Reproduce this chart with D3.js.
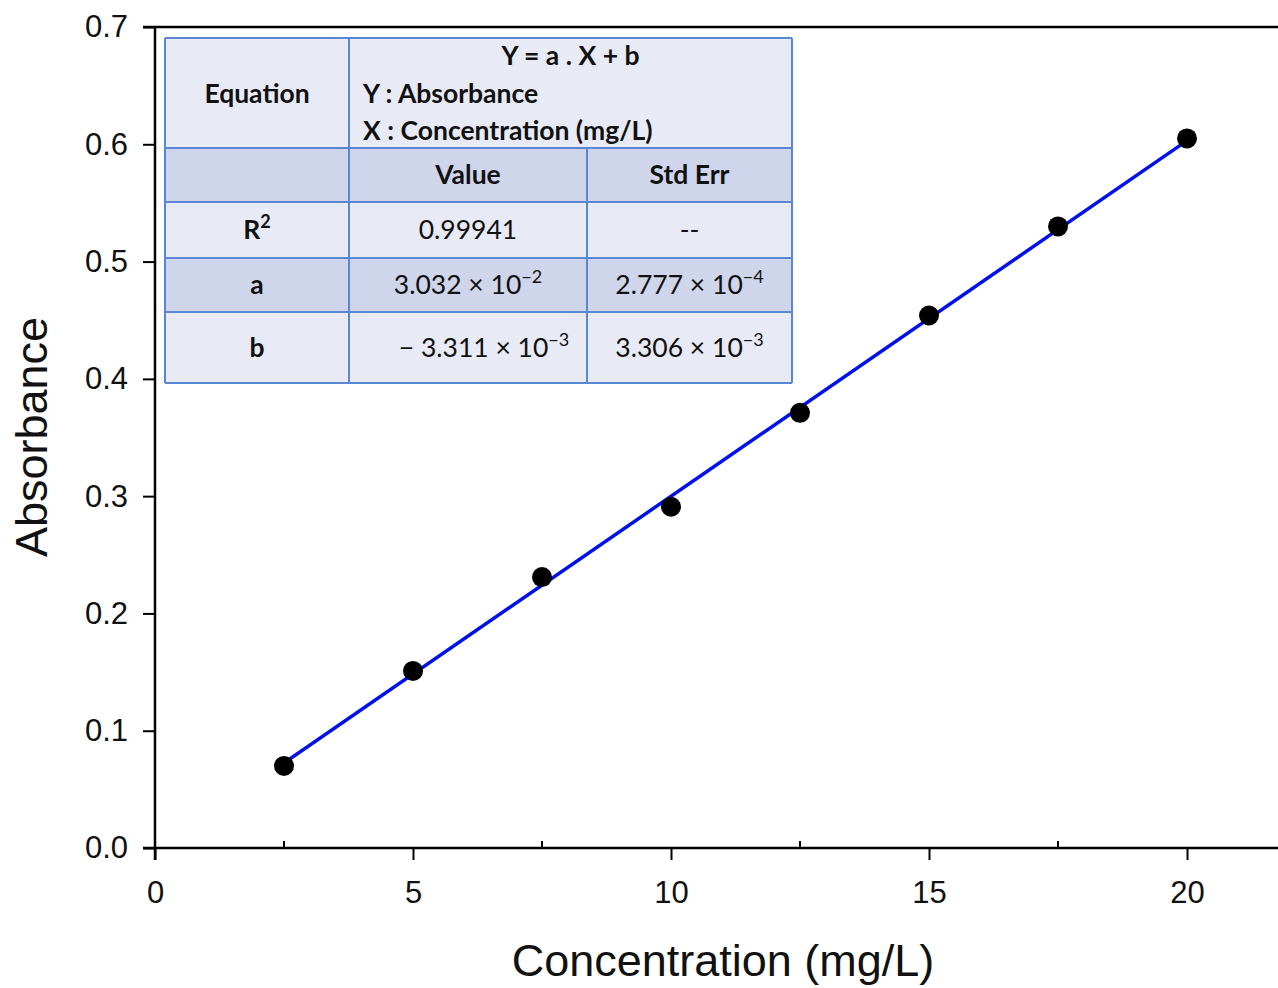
<!DOCTYPE html>
<html>
<head>
<meta charset="utf-8">
<script src="https://cdn.jsdelivr.net/npm/d3@7"></script>
<style>
  body { margin: 0; background: #fff; }
  svg { display: block; }
</style>
</head>
<body>
<svg id="chart" width="1278" height="988"></svg>
<script>
// measured points
const concentration = [2.5, 5, 7.5, 10, 12.5, 15, 17.5, 20];
const absorbance = [0.07, 0.151, 0.231, 0.291, 0.371, 0.454, 0.530, 0.605];
// fit: Y = a.X + b
const slope = 0.03032;
const intercept = -0.003311;
const xTicks = [0, 5, 10, 15, 20];
const xMinorTicks = [2.5, 7.5, 12.5, 17.5];
const yTicks = [0, 0.1, 0.2, 0.3, 0.4, 0.5, 0.6, 0.7];

// table content
const tableRows = [
  {label: 'R²', value: ['0.99941'], err: ['--']},
  {label: 'a', value: ['3.032 × 10', '−2'], err: ['2.777 × 10', '−4']},
  {label: 'b', value: ['−  3.311 × 10', '−3'], err: ['3.306 × 10', '−3']}
];

(function () {
const svg = d3.select('#chart');
const plotLeft = 155, plotBottom = 848, plotTop = 27;

const x = d3.scaleLinear().domain([0, 20]).range([plotLeft, 1187]);
const y = d3.scaleLinear().domain([0, 0.7]).range([plotBottom, plotTop]);

const axisFont = '"Liberation Sans", Arial, sans-serif';

// top frame line
svg.append('line')
  .attr('x1', plotLeft - 12).attr('x2', 1278)
  .attr('y1', plotTop).attr('y2', plotTop)
  .attr('stroke', '#000').attr('stroke-width', 2.5);

// x axis
const gx = svg.append('g').attr('transform', `translate(0,${plotBottom})`)
  .call(d3.axisBottom(x).tickValues(xTicks).tickSize(12).tickPadding(21).tickFormat(d3.format('d')));
gx.select('.domain').remove();
gx.append('line').attr('x1', plotLeft - 12).attr('x2', 1278).attr('stroke', '#000').attr('stroke-width', 2.5);
gx.selectAll('.tick line').attr('stroke-width', 2);
gx.selectAll('.tick text').attr('font-family', axisFont).attr('font-size', 31).attr('fill', '#111');
gx.selectAll('.minor').data(xMinorTicks).join('line')
  .attr('class', 'minor')
  .attr('x1', d => x(d)).attr('x2', d => x(d))
  .attr('y1', 0).attr('y2', -7)
  .attr('stroke', '#000').attr('stroke-width', 2);

// y axis
const gy = svg.append('g').attr('transform', `translate(${plotLeft},0)`)
  .call(d3.axisLeft(y).tickValues(yTicks).tickSize(12).tickPadding(15).tickFormat(d3.format('.1f')));
gy.select('.domain').remove();
gy.append('line').attr('y1', plotTop).attr('y2', plotBottom + 12).attr('stroke', '#000').attr('stroke-width', 2.5);
gy.selectAll('.tick line').attr('stroke-width', 2);
gy.selectAll('.tick text').attr('font-family', axisFont).attr('font-size', 31).attr('fill', '#111');

// axis titles
svg.append('text')
  .attr('x', 723).attr('y', 976)
  .attr('text-anchor', 'middle')
  .attr('font-family', axisFont).attr('font-size', 45).attr('fill', '#111')
  .text('Concentration (mg/L)');
svg.append('text')
  .attr('transform', 'translate(47,437) rotate(-90)')
  .attr('text-anchor', 'middle')
  .attr('font-family', axisFont).attr('font-size', 45).attr('fill', '#111')
  .text('Absorbance');

// fit line
const xr = d3.extent(concentration);
svg.append('line')
  .attr('x1', x(xr[0])).attr('y1', y(slope * xr[0] + intercept))
  .attr('x2', x(xr[1])).attr('y2', y(slope * xr[1] + intercept))
  .attr('stroke', '#0010e8').attr('stroke-width', 3.5);

// points
svg.append('g').selectAll('circle')
  .data(concentration.map((c, i) => [c, absorbance[i]]))
  .join('circle')
  .attr('cx', d => x(d[0])).attr('cy', d => y(d[1]))
  .attr('r', 10).attr('fill', '#000');

// table
const tFont = 'Lato, "Open Sans", sans-serif';
const colX = [165, 349, 587, 792];
const rowY = [38, 148, 202, 258, 312, 383];
const light = '#e8eaf5', dark = '#cfd5ea', border = '#5a87d2';
const tbl = svg.append('g');
const fills = [light, dark, light, dark, light];
fills.forEach((f, i) => {
  tbl.append('rect')
    .attr('x', colX[0]).attr('y', rowY[i])
    .attr('width', colX[3] - colX[0]).attr('height', rowY[i + 1] - rowY[i])
    .attr('fill', f);
});
// grid lines
rowY.forEach(v => tbl.append('line').attr('x1', colX[0]).attr('x2', colX[3]).attr('y1', v).attr('y2', v)
  .attr('stroke', border).attr('stroke-width', 2));
[colX[0], colX[1], colX[3]].forEach(v => tbl.append('line').attr('x1', v).attr('x2', v).attr('y1', rowY[0]).attr('y2', rowY[5])
  .attr('stroke', border).attr('stroke-width', 2));
tbl.append('line').attr('x1', colX[2]).attr('x2', colX[2]).attr('y1', rowY[1]).attr('y2', rowY[5])
  .attr('stroke', border).attr('stroke-width', 2);

function cellText(cx, cy, parts, bold, anchor) {
  const t = tbl.append('text')
    .attr('x', cx).attr('y', cy)
    .attr('text-anchor', anchor || 'middle')
    .attr('dominant-baseline', 'middle')
    .attr('font-family', tFont).attr('font-size', 26.5)
    .attr('font-weight', bold ? 700 : 400).attr('fill', '#111');
  t.append('tspan').text(parts[0]);
  if (parts[1]) t.append('tspan').attr('dy', -9).attr('font-size', 18).text(parts[1]);
  return t;
}
const mid = i => (colX[i] + colX[i + 1]) / 2;
const rmid = i => (rowY[i] + rowY[i + 1]) / 2;

cellText(mid(0), 96, ['Equation'], true);
cellText((colX[1] + colX[3]) / 2, 58, ['Y = a . X + b'], true);
cellText(363, 96, ['Y : Absorbance'], true, 'start');
cellText(363, 133, ['X : Concentration (mg/L)'], true, 'start');
cellText(mid(1), rmid(1) + 2, ['Value'], true);
cellText(mid(2), rmid(1) + 2, ['Std Err'], true);
tableRows.forEach((r, i) => {
  const cy = rmid(i + 2) + 2;
  if (r.label === 'R²') cellText(mid(0), cy, ['R', '2'], true);
  else cellText(mid(0), cy, [r.label], true);
  cellText(mid(1) + (r.label === 'b' ? 16 : 0), cy, r.value, false);
  cellText(mid(2), cy, r.err, false);
});
})();
</script>
</body>
</html>
